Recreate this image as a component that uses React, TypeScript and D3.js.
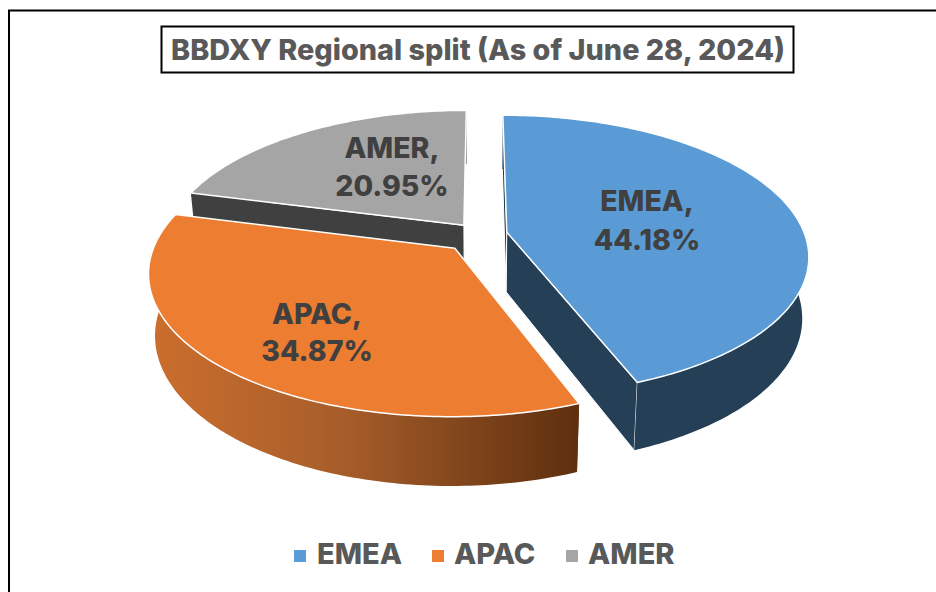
import * as d3 from "d3";
import React from "react";

const regions = ["EMEA", "APAC", "AMER"];
const shares = [44.18, 34.87, 20.95];
const chartTitle = "BBDXY Regional split (As of June 28, 2024)";

const topColors = ["#5B9BD5", "#ED7D31", "#A5A5A5"];
const wallColors = ["#243F56", "url(#apacWall)", "#404040"];

const labelPos = [
  { x: 647, y: 211, y2: 250 },
  { x: 317, y: 324, y2: 361 },
  { x: 392, y: 158, y2: 196 },
];
const legendPos = [
  { sq: 294, tx: 317 },
  { sq: 432, tx: 454 },
  { sq: 566, tx: 588 },
];
// small per-slice screen offsets on top of the explode
const sliceNudge = [
  { x: 1, y: -1 },
  { x: -4, y: 3 },
  { x: 3, y: 0 },
];

const CX = 478;
const CY = 235.5;
const RX = 298;
const RY = 137;
const PERSP = 0.165; // back of the disc shrinks, front grows
const EXPLODE = 0.095;
const DEPTH = 60;
const BOTTOM_SCALE = 0.98;

const fontFamily = "Inter, Lato, sans-serif";

// slice angle + radius -> screen point, slices are pushed out along their bisector
function project(mid: number, theta: number, r: number, bottom: boolean): [number, number] {
  const wx = EXPLODE * Math.sin(mid) + r * Math.sin(theta);
  const wz = EXPLODE * Math.cos(mid) + r * Math.cos(theta);
  const s = 1 / (1 + PERSP * wz);
  const b = bottom ? BOTTOM_SCALE : 1;
  return [CX + RX * wx * s * b, CY + (-RY * wz * b + (bottom ? DEPTH : 0)) * s];
}

const pieGen = d3
  .pie<number>()
  .sort(null)
  .value((d) => d);
const line = d3.line();

function sampleAngles(a0: number, a1: number) {
  const n = Math.ceil((a1 - a0) * 60);
  return d3.range(n + 1).map((i) => a0 + ((a1 - a0) * i) / n);
}

export default function App() {
  const arcs = pieGen(shares);
  // back slice first so the orange top covers the dark wall
  const drawOrder = [2, 0, 1];

  return (
    <svg width={936} height={592} style={{ position: "absolute", left: 0, top: 0, background: "#fff" }}>
      <defs>
        <linearGradient id="apacWall" gradientUnits="userSpaceOnUse" x1={150} x2={578} y1={0} y2={0}>
          <stop offset="0" stopColor="#CC6E2D" />
          <stop offset="0.45" stopColor="#A85E2A" />
          <stop offset="1" stopColor="#5F300F" />
        </linearGradient>
      </defs>

      <path d="M9 592V10.500H936" fill="none" stroke="#000" strokeWidth={2} />

      <rect x={161.500} y={26.500} width={632} height={46} fill="#fff" stroke="#000" strokeWidth={2} />
      <text x={478} y={60} textAnchor="middle" fontFamily={fontFamily} fontWeight={800} fontSize={29} fill="#595959" textLength={614} lengthAdjust="spacingAndGlyphs">
        {chartTitle}
      </text>

      {drawOrder.map((i) => {
        const a = arcs[i];
        const mid = (a.startAngle + a.endAngle) / 2;
        const angles = sampleAngles(a.startAngle, a.endAngle);
        const topArc = angles.map((t) => project(mid, t, 1, false));
        const bottomArc = angles.map((t) => project(mid, t, 1, true));
        const centerTop = project(mid, 0, 0, false);
        const centerBottom = project(mid, 0, 0, true);
        const startWall = [centerTop, topArc[0], bottomArc[0], centerBottom] as [number, number][];
        const endWall = [centerTop, topArc[topArc.length - 1], bottomArc[bottomArc.length - 1], centerBottom] as [number, number][];
        const outerWall = [...topArc, ...bottomArc.slice().reverse()];
        return (
          <g key={regions[i]} transform={`translate(${sliceNudge[i].x},${sliceNudge[i].y})`}>
            <path d={line(startWall) + "Z"} fill={wallColors[i]} stroke={i === 1 ? "none" : "#fff"} strokeWidth={1} />
            {i === 2 ? null : <path d={line(endWall) + "Z"} fill={wallColors[i]} stroke={i === 1 ? "none" : "#fff"} strokeWidth={1} />}
            <path d={line(outerWall) + "Z"} fill={wallColors[i]} />
            <path d={line([centerTop, ...topArc]) + "Z"} fill={topColors[i]} stroke="#fff" strokeWidth={1.500} strokeLinejoin="round" />
          </g>
        );
      })}

      {regions.map((name, i) => (
        <g key={name} fontFamily={fontFamily} fontWeight={800} fontSize={28.500} fill="#404040" textAnchor="middle">
          <text x={labelPos[i].x} y={labelPos[i].y}>{name},</text>
          <text x={labelPos[i].x} y={labelPos[i].y2}>{shares[i].toFixed(2)}%</text>
        </g>
      ))}

      {regions.map((name, i) => (
        <g key={name}>
          <rect x={legendPos[i].sq} y={550} width={12} height={12} fill={topColors[i]} />
          <text x={legendPos[i].tx} y={564} fontFamily={fontFamily} fontWeight={800} fontSize={29} fill="#595959">
            {name}
          </text>
        </g>
      ))}
    </svg>
  );
}
